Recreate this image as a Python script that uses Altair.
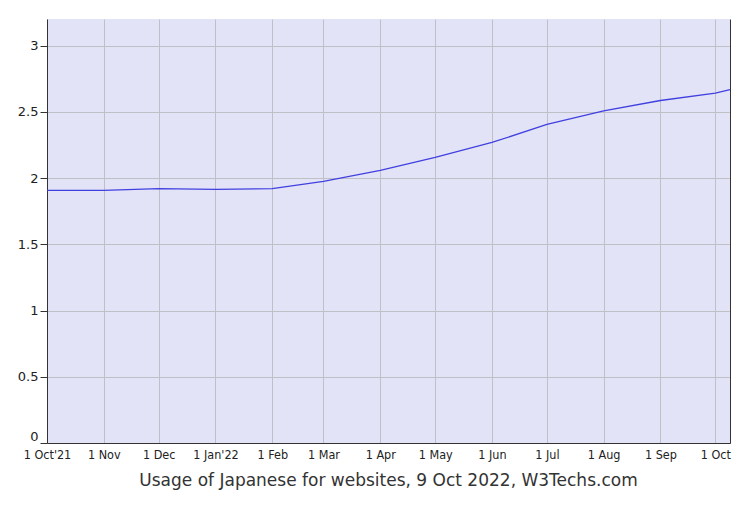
import altair as alt
import pandas as pd

dates = ["2021-10-01T00:00:00", "2021-11-01T00:00:00", "2021-12-01T00:00:00",
         "2022-01-01T00:00:00", "2022-02-01T00:00:00", "2022-03-01T00:00:00",
         "2022-04-01T00:00:00", "2022-05-01T00:00:00", "2022-06-01T00:00:00",
         "2022-07-01T00:00:00", "2022-08-01T00:00:00", "2022-09-01T00:00:00",
         "2022-10-01T00:00:00", "2022-10-09T00:00:00"]
values = [1.906, 1.906, 1.92, 1.914, 1.92, 1.974, 2.057, 2.155, 2.268,
          2.404, 2.507, 2.585, 2.64, 2.667]

tick_labels = ["1 Oct'21", "1 Nov", "1 Dec", "1 Jan'22", "1 Feb", "1 Mar",
               "1 Apr", "1 May", "1 Jun", "1 Jul", "1 Aug", "1 Sep", "1 Oct"]
tick_months = [(2021, 10), (2021, 11), (2021, 12), (2022, 1), (2022, 2),
               (2022, 3), (2022, 4), (2022, 5), (2022, 6), (2022, 7),
               (2022, 8), (2022, 9), (2022, 10)]
y_ticks = [0, 0.5, 1, 1.5, 2, 2.5, 3]

title_text = "Usage of Japanese for websites, 9 Oct 2022, W3Techs.com"

df = pd.DataFrame({"date": dates, "value": values})

label_array = "[" + ",".join('"' + s + '"' for s in tick_labels) + "]"
label_expr = label_array + "[(year(datum.value)-2021)*12 + month(datum.value) - 9]"

x_scale = alt.Scale(domain=[alt.DateTime(year=2021, month=10, date=1),
                            alt.DateTime(year=2022, month=10, date=9)], nice=False)
y_scale = alt.Scale(domain=[0, 3.2], nice=False)

x_enc = alt.X("date:T", scale=x_scale, title=None,
              axis=alt.Axis(values=[alt.DateTime(year=y, month=m, date=1) for y, m in tick_months],
                            labelExpr=label_expr, grid=True, gridColor="#bfbfc6",
                            gridWidth=1, ticks=False, domainColor="#333333",
                            labelFont="DejaVu Sans Condensed", labelFontSize=12.5,
                            labelColor="#222222", labelPadding=5, labelFlush=False,
                            labelOverlap=False))

line = alt.Chart(df).mark_line(color="#4040e0", strokeWidth=1.3).encode(
    x=x_enc,
    y=alt.Y("value:Q", scale=y_scale, title=None,
            axis=alt.Axis(values=y_ticks, grid=True, gridColor="#bfbfc6",
                          tickColor="#333333", tickSize=7, domainColor="#333333",
                          labelFont="DejaVu Sans", labelFontSize=13,
                          labelColor="#222222", labelPadding=2,
                          labelBaseline={"condition": {"test": "datum.value == 0", "value": "bottom"},
                                         "value": "middle"},
                          format="~g")),
)

right_border = alt.Chart(df).mark_line(opacity=0).encode(
    x=alt.X("date:T", scale=x_scale),
    y=alt.Y("value:Q", scale=y_scale,
            axis=alt.Axis(orient="right", labels=False, ticks=False, grid=False,
                          title=None, domainColor="#333333")),
)

chart = alt.layer(line, right_border).resolve_axis(y="independent").properties(
    width=683, height=424,
    autosize=alt.AutoSizeParams(type="none"),
    padding={"left": 39, "top": 11, "right": 9, "bottom": 56},
    view=alt.ViewBackground(fill="#e3e3f8", stroke=None),
    title=alt.TitleParams(title_text, orient="bottom", anchor="middle",
                          font="DejaVu Sans", fontSize=17, fontWeight="normal",
                          color="#333333", offset=12),
).configure(background="white")

chart.save("out.html", embed_options={"renderer": "svg", "actions": False})
